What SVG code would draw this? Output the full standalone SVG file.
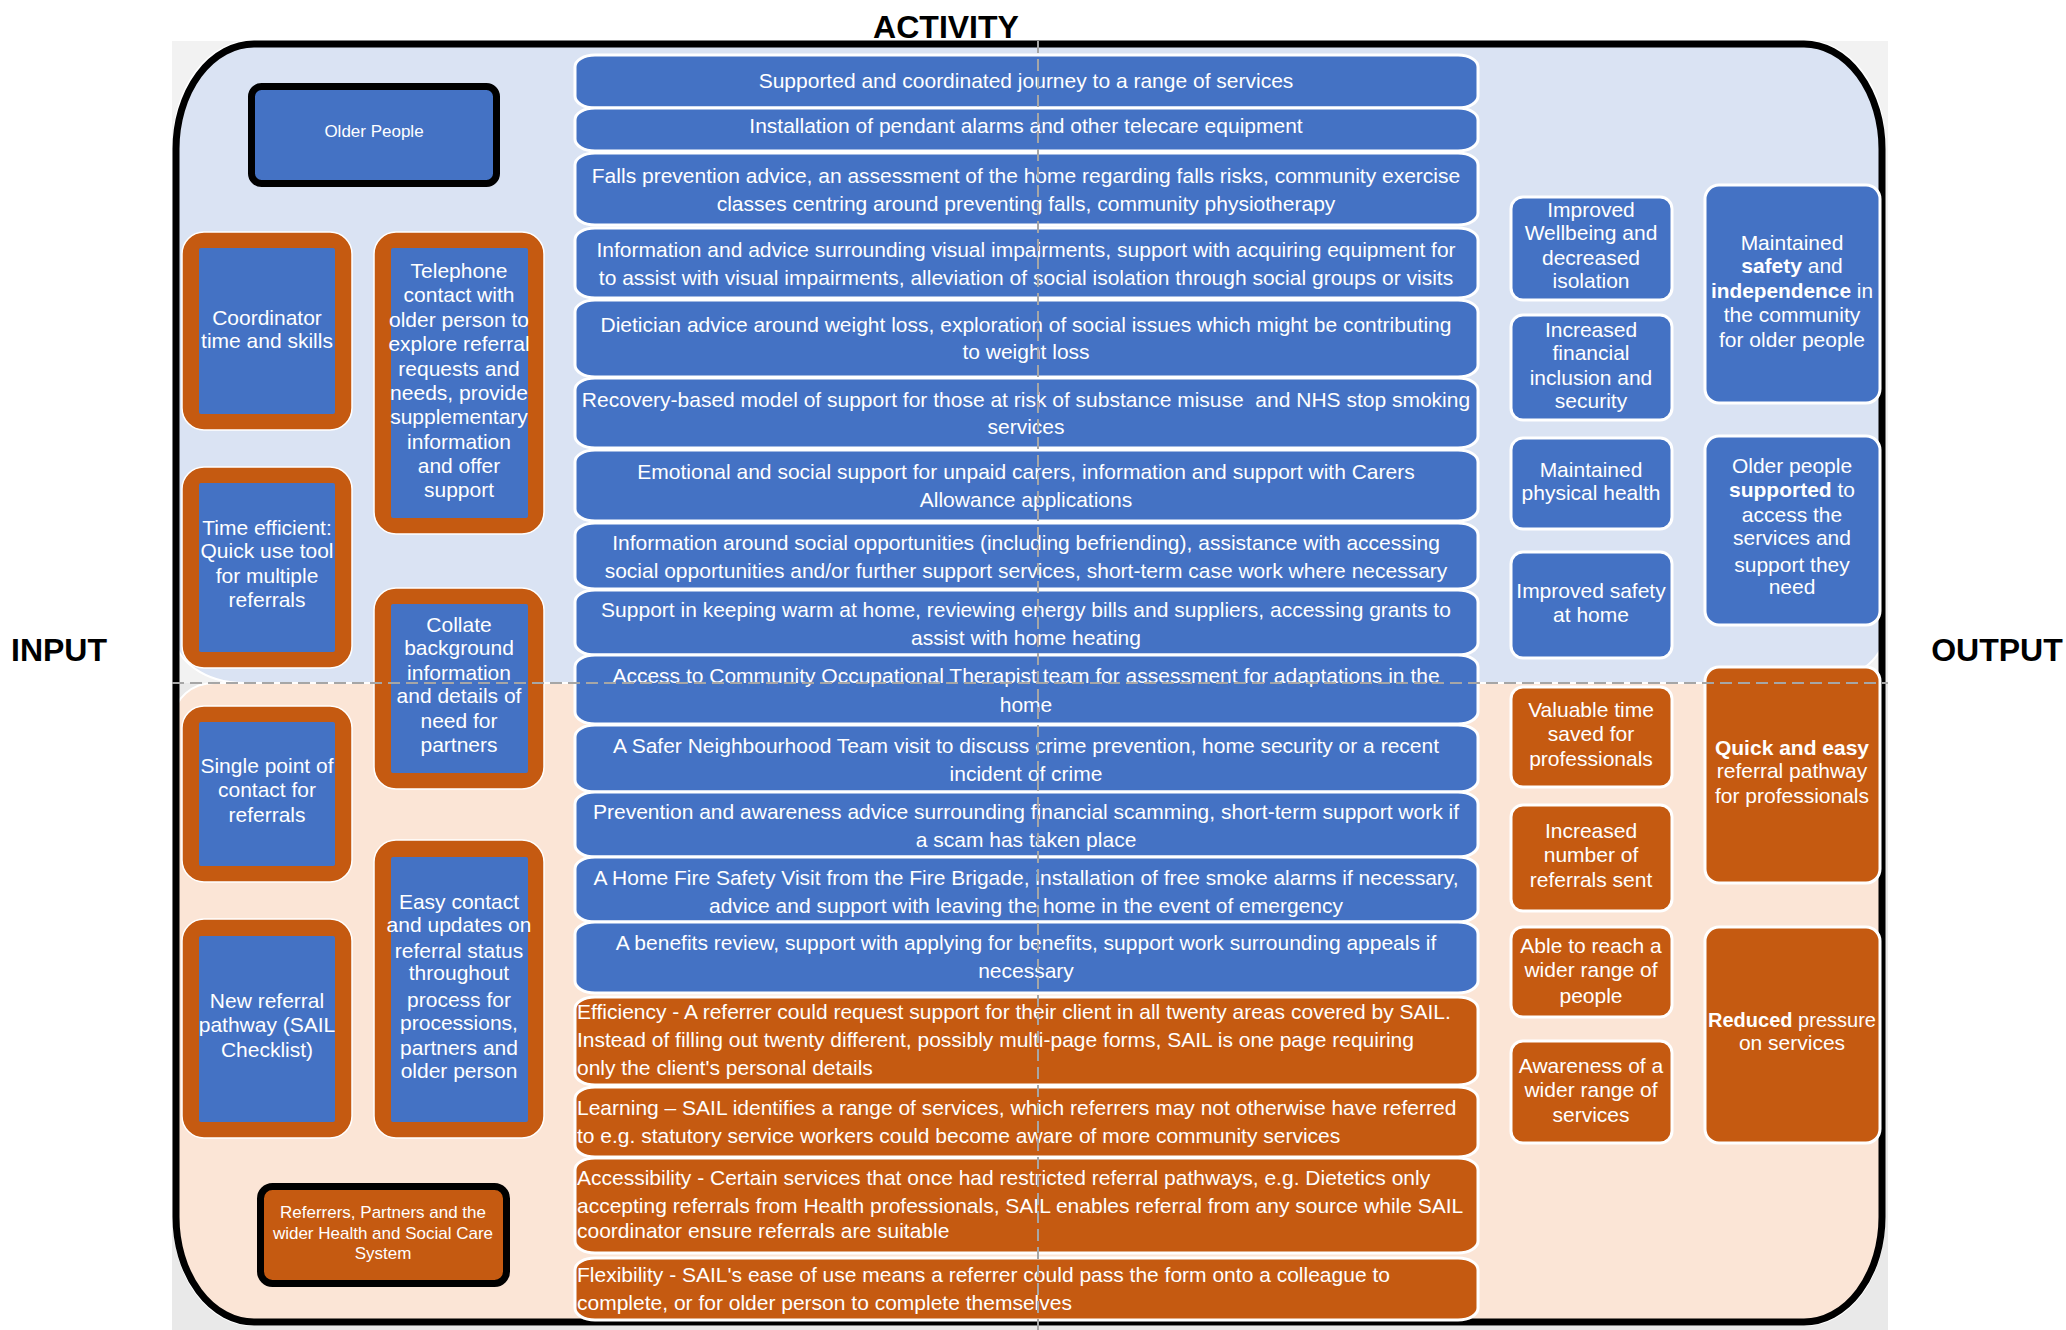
<svg xmlns="http://www.w3.org/2000/svg" width="2066" height="1330" viewBox="0 0 2066 1330">
<style>
text{font-family:"Liberation Sans",Arial,sans-serif;fill:#fff;text-anchor:middle}
.hd{fill:#000;font-weight:bold;font-size:32px}
.t{font-size:21px}
.s{font-size:17px}
.l{text-anchor:start}
.b{font-weight:bold}
.pre{white-space:pre}
.blue{fill:#4472c4}
.or{fill:#c55a11}
.act{stroke:#fff;stroke-width:3}
.out{stroke:#fff;stroke-width:3}
.ob{fill:#c55a11;stroke:#fff;stroke-width:1.5}
.ib{fill:#4472c4}
.key{stroke:#000;stroke-width:7}
.dash{stroke:#a6a6a6;stroke-width:2;stroke-dasharray:12 6;fill:none}
</style>
<rect width="2066" height="1330" fill="#fff"/>
<g id="background">
<rect x="172" y="41" width="1716" height="642" fill="#f2f2f2"/>
<rect x="172" y="683" width="1716" height="647" fill="#e9e9e9"/>
<path d="M174,141 A78,100 0 0 1 252,41 L1806,41 A78,100 0 0 1 1884,141 L1884,633 A70,50 0 0 1 1814,683 L244,683 A70,50 0 0 1 174,633 Z" fill="#dae3f3" stroke="#fff" stroke-width="2"/>
<path d="M174,718 A40,35 0 0 1 214,683 L1844,683 A40,35 0 0 1 1884,718 L1884,1220 A78,105 0 0 1 1806,1325 L252,1325 A78,105 0 0 1 174,1220 Z" fill="#fbe5d6" stroke="#fff" stroke-width="2"/>
<rect x="176" y="44" width="1706" height="1278" rx="78" ry="105" fill="none" stroke="#000" stroke-width="7"/>
</g>
<g id="headings">
<text class="hd" x="946" y="38">ACTIVITY</text>
<text class="hd" x="59" y="661">INPUT</text>
<text class="hd" x="1997" y="661">OUTPUT</text>
</g>
<g id="older-people">
<rect class="key blue" x="251.5" y="86.5" width="245" height="97" rx="10"/>
<text class="s" x="374" y="137">Older People</text>
</g>
<g id="referrers">
<rect class="key or" x="260.5" y="1186.5" width="246" height="97" rx="12"/>
<text class="s" x="383" y="1218">Referrers, Partners and the</text>
<text class="s" x="383" y="1239">wider Health and Social Care</text>
<text class="s" x="383" y="1259">System</text>
</g>
<g id="in-coordinator">
<rect class="ob" x="182" y="232" width="170" height="198" rx="22"/>
<rect class="ib" x="199" y="248" width="136" height="166" rx="2"/>
<text class="t" x="267" y="325">Coordinator</text>
<text class="t" x="267" y="348">time and skills</text>
</g>
<g id="in-telephone">
<rect class="ob" x="374" y="232" width="170" height="302" rx="22"/>
<rect class="ib" x="391" y="248" width="137" height="270" rx="2"/>
<text class="t" x="459" y="278">Telephone</text>
<text class="t" x="459" y="302">contact with</text>
<text class="t" x="459" y="327">older person to</text>
<text class="t" x="459" y="351">explore referral</text>
<text class="t" x="459" y="376">requests and</text>
<text class="t" x="459" y="400">needs, provide</text>
<text class="t" x="459" y="424">supplementary</text>
<text class="t" x="459" y="449">information</text>
<text class="t" x="459" y="473">and offer</text>
<text class="t" x="459" y="497">support</text>
</g>
<g id="in-time-efficient">
<rect class="ob" x="182" y="467" width="170" height="201" rx="22"/>
<rect class="ib" x="199" y="483" width="136" height="169" rx="2"/>
<text class="t" x="267" y="535">Time efficient:</text>
<text class="t" x="267" y="558">Quick use tool</text>
<text class="t" x="267" y="583">for multiple</text>
<text class="t" x="267" y="607">referrals</text>
</g>
<g id="in-collate">
<rect class="ob" x="374" y="588" width="170" height="201" rx="22"/>
<rect class="ib" x="391" y="604" width="137" height="169" rx="2"/>
<text class="t" x="459" y="632">Collate</text>
<text class="t" x="459" y="655">background</text>
<text class="t" x="459" y="680">information</text>
<text class="t" x="459" y="703">and details of</text>
<text class="t" x="459" y="728">need for</text>
<text class="t" x="459" y="752">partners</text>
</g>
<g id="in-single-point">
<rect class="ob" x="182" y="706" width="170" height="176" rx="22"/>
<rect class="ib" x="199" y="722" width="136" height="144" rx="2"/>
<text class="t" x="267" y="773">Single point of</text>
<text class="t" x="267" y="797">contact for</text>
<text class="t" x="267" y="822">referrals</text>
</g>
<g id="in-new-pathway">
<rect class="ob" x="182" y="919" width="170" height="219" rx="22"/>
<rect class="ib" x="199" y="936" width="136" height="186" rx="2"/>
<text class="t" x="267" y="1008">New referral</text>
<text class="t" x="267" y="1032">pathway (SAIL</text>
<text class="t" x="267" y="1057">Checklist)</text>
</g>
<g id="in-easy-contact">
<rect class="ob" x="374" y="840" width="170" height="298" rx="22"/>
<rect class="ib" x="391" y="857" width="137" height="265" rx="2"/>
<text class="t" x="459" y="909">Easy contact</text>
<text class="t" x="459" y="932">and updates on</text>
<text class="t" x="459" y="958">referral status</text>
<text class="t" x="459" y="980">throughout</text>
<text class="t" x="459" y="1007">process for</text>
<text class="t" x="459" y="1030">processions,</text>
<text class="t" x="459" y="1055">partners and</text>
<text class="t" x="459" y="1078">older person</text>
</g>
<g id="act-1"><rect class="act blue" x="575" y="55" width="903" height="53" rx="20" ry="12"/>
<text class="t" x="1026" y="88">Supported and coordinated journey to a range of services</text></g>
<g id="act-2"><rect class="act blue" x="575" y="108" width="903" height="43" rx="20" ry="12"/>
<text class="t" x="1026" y="133">Installation of pendant alarms and other telecare equipment</text></g>
<g id="act-3"><rect class="act blue" x="575" y="153" width="903" height="72" rx="20" ry="12"/>
<text class="t" x="1026" y="183">Falls prevention advice, an assessment of the home regarding falls risks, community exercise</text>
<text class="t" x="1026" y="211">classes centring around preventing falls, community physiotherapy</text></g>
<g id="act-4"><rect class="act blue" x="575" y="228" width="903" height="70" rx="20" ry="12"/>
<text class="t" x="1026" y="257">Information and advice surrounding visual impairments, support with acquiring equipment for</text>
<text class="t" x="1026" y="285">to assist with visual impairments, alleviation of social isolation through social groups or visits</text></g>
<g id="act-5"><rect class="act blue" x="575" y="300" width="903" height="77" rx="20" ry="12"/>
<text class="t" x="1026" y="332">Dietician advice around weight loss, exploration of social issues which might be contributing</text>
<text class="t" x="1026" y="359">to weight loss</text></g>
<g id="act-6"><rect class="act blue" x="575" y="378" width="903" height="70" rx="20" ry="12"/>
<text class="t pre" x="1026" y="407">Recovery-based model of support for those at risk of substance misuse  and NHS stop smoking</text>
<text class="t" x="1026" y="434">services</text></g>
<g id="act-7"><rect class="act blue" x="575" y="450" width="903" height="71" rx="20" ry="12"/>
<text class="t" x="1026" y="479">Emotional and social support for unpaid carers, information and support with Carers</text>
<text class="t" x="1026" y="507">Allowance applications</text></g>
<g id="act-8"><rect class="act blue" x="575" y="523" width="903" height="66" rx="20" ry="12"/>
<text class="t" x="1026" y="550">Information around social opportunities (including befriending), assistance with accessing</text>
<text class="t" x="1026" y="578">social opportunities and/or further support services, short-term case work where necessary</text></g>
<g id="act-9"><rect class="act blue" x="575" y="590" width="903" height="65" rx="20" ry="12"/>
<text class="t" x="1026" y="617">Support in keeping warm at home, reviewing energy bills and suppliers, accessing grants to</text>
<text class="t" x="1026" y="645">assist with home heating</text></g>
<g id="act-10"><rect class="act blue" x="575" y="655" width="903" height="69" rx="20" ry="12"/>
<text class="t" x="1026" y="683">Access to Community Occupational Therapist team for assessment for adaptations in the</text>
<text class="t" x="1026" y="712">home</text></g>
<g id="act-11"><rect class="act blue" x="575" y="725" width="903" height="67" rx="20" ry="12"/>
<text class="t" x="1026" y="753">A Safer Neighbourhood Team visit to discuss crime prevention, home security or a recent</text>
<text class="t" x="1026" y="781">incident of crime</text></g>
<g id="act-12"><rect class="act blue" x="575" y="792" width="903" height="65" rx="20" ry="12"/>
<text class="t" x="1026" y="819">Prevention and awareness advice surrounding financial scamming, short-term support work if</text>
<text class="t" x="1026" y="847">a scam has taken place</text></g>
<g id="act-13"><rect class="act blue" x="575" y="857" width="903" height="65" rx="20" ry="12"/>
<text class="t" x="1026" y="885">A Home Fire Safety Visit from the Fire Brigade, installation of free smoke alarms if necessary,</text>
<text class="t" x="1026" y="913">advice and support with leaving the home in the event of emergency</text></g>
<g id="act-14"><rect class="act blue" x="575" y="922" width="903" height="71" rx="20" ry="12"/>
<text class="t" x="1026" y="950">A benefits review, support with applying for benefits, support work surrounding appeals if</text>
<text class="t" x="1026" y="978">necessary</text></g>
<g id="act-15"><rect class="act or" x="575" y="997" width="903" height="88" rx="20" ry="12"/>
<text class="t l" x="577" y="1019">Efficiency - A referrer could request support for their client in all twenty areas covered by SAIL.</text>
<text class="t l" x="577" y="1047">Instead of filling out twenty different, possibly multi-page forms, SAIL is one page requiring</text>
<text class="t l" x="577" y="1075">only the client's personal details</text></g>
<g id="act-16"><rect class="act or" x="575" y="1087" width="903" height="70" rx="20" ry="12"/>
<text class="t l" x="577" y="1115">Learning – SAIL identifies a range of services, which referrers may not otherwise have referred</text>
<text class="t l" x="577" y="1143">to e.g. statutory service workers could become aware of more community services</text></g>
<g id="act-17"><rect class="act or" x="575" y="1158" width="903" height="95" rx="20" ry="12"/>
<text class="t l" x="577" y="1185">Accessibility - Certain services that once had restricted referral pathways, e.g. Dietetics only</text>
<text class="t l" x="577" y="1213">accepting referrals from Health professionals, SAIL enables referral from any source while SAIL</text>
<text class="t l" x="577" y="1238">coordinator ensure referrals are suitable</text></g>
<g id="act-18"><rect class="act or" x="575" y="1258" width="903" height="62" rx="20" ry="12"/>
<text class="t l" x="577" y="1282">Flexibility - SAIL's ease of use means a referrer could pass the form onto a colleague to</text>
<text class="t l" x="577" y="1310">complete, or for older person to complete themselves</text></g>
<g id="out-wellbeing"><rect class="out blue" x="1511" y="197" width="161" height="103" rx="12"/>
<text class="t" x="1591" y="217">Improved</text><text class="t" x="1591" y="240">Wellbeing and</text><text class="t" x="1591" y="265">decreased</text><text class="t" x="1591" y="288">isolation</text></g>
<g id="out-financial"><rect class="out blue" x="1511" y="315" width="161" height="105" rx="12"/>
<text class="t" x="1591" y="337">Increased</text><text class="t" x="1591" y="360">financial</text><text class="t" x="1591" y="385">inclusion and</text><text class="t" x="1591" y="408">security</text></g>
<g id="out-physical"><rect class="out blue" x="1511" y="438" width="161" height="91" rx="12"/>
<text class="t" x="1591" y="477">Maintained</text><text class="t" x="1591" y="500">physical health</text></g>
<g id="out-safety-home"><rect class="out blue" x="1511" y="552" width="161" height="106" rx="12"/>
<text class="t" x="1591" y="598">Improved safety</text><text class="t" x="1591" y="622">at home</text></g>
<g id="out-time-saved"><rect class="out or" x="1511" y="687" width="161" height="100" rx="12"/>
<text class="t" x="1591" y="717">Valuable time</text><text class="t" x="1591" y="741">saved for</text><text class="t" x="1591" y="766">professionals</text></g>
<g id="out-referrals"><rect class="out or" x="1511" y="805" width="161" height="106" rx="12"/>
<text class="t" x="1591" y="838">Increased</text><text class="t" x="1591" y="862">number of</text><text class="t" x="1591" y="887">referrals sent</text></g>
<g id="out-reach"><rect class="out or" x="1511" y="927" width="161" height="90" rx="12"/>
<text class="t" x="1591" y="953">Able to reach a</text><text class="t" x="1591" y="977">wider range of</text><text class="t" x="1591" y="1003">people</text></g>
<g id="out-awareness"><rect class="out or" x="1511" y="1041" width="161" height="102" rx="12"/>
<text class="t" x="1591" y="1073">Awareness of a</text><text class="t" x="1591" y="1097">wider range of</text><text class="t" x="1591" y="1122">services</text></g>
<g id="outcome-safety"><rect class="out blue" x="1705" y="185" width="175" height="218" rx="14"/>
<text class="t" x="1792" y="250">Maintained</text>
<text class="t" x="1792" y="273"><tspan class="b">safety</tspan> and</text>
<text class="t" x="1792" y="298" textLength="162" lengthAdjust="spacingAndGlyphs"><tspan class="b">independence</tspan> in</text>
<text class="t" x="1792" y="322">the community</text>
<text class="t" x="1792" y="347">for older people</text></g>
<g id="outcome-supported"><rect class="out blue" x="1705" y="436" width="175" height="189" rx="14"/>
<text class="t" x="1792" y="473">Older people</text>
<text class="t" x="1792" y="497"><tspan class="b">supported</tspan> to</text>
<text class="t" x="1792" y="522">access the</text>
<text class="t" x="1792" y="545">services and</text>
<text class="t" x="1792" y="572">support they</text>
<text class="t" x="1792" y="594">need</text></g>
<g id="outcome-pathway"><rect class="out or" x="1705" y="667" width="175" height="216" rx="14"/>
<text class="t b" x="1792" y="755">Quick and easy</text>
<text class="t" x="1792" y="778">referral pathway</text>
<text class="t" x="1792" y="803">for professionals</text></g>
<g id="outcome-pressure"><rect class="out or" x="1705" y="927" width="175" height="216" rx="14"/>
<text class="t" x="1792" y="1027" textLength="168" lengthAdjust="spacingAndGlyphs"><tspan class="b">Reduced</tspan> pressure</text>
<text class="t" x="1792" y="1050">on services</text></g>
<g id="connectors">
<line class="dash" x1="172" y1="683" x2="1888" y2="683"/>
<line class="dash" x1="1038" y1="41" x2="1038" y2="1330"/>
</g>
</svg>
